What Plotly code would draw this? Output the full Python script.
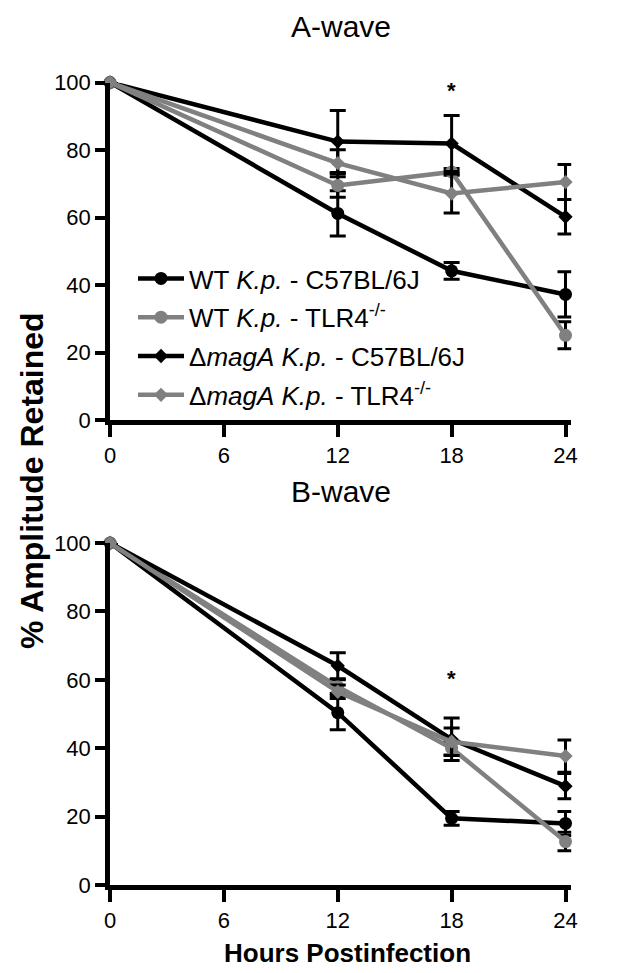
import plotly.graph_objects as go

W, H = 621, 973
OFF = 8  # page body margin offset

hours = [0, 12, 18, 24]
x_ticks = [0, 6, 12, 18, 24]
y_ticks = [0, 20, 40, 60, 80, 100]

series_names = [
    "WT <i>K.p.</i> - C57BL/6J",
    "WT <i>K.p.</i> - TLR4<sup>-/-</sup>",
    "Δ<i>magA</i> <i>K.p.</i> - C57BL/6J",
    "Δ<i>magA</i> <i>K.p.</i> - TLR4<sup>-/-</sup>",
]
series_colors = ["#000000", "#808080", "#000000", "#808080"]
series_symbols = ["circle", "circle", "diamond", "diamond"]

# A-wave
a_wt_b6 = [100, 61.2, 44.2, 37.2]
a_wt_b6_err = [0, 6.7, 2.5, 6.7]
a_wt_tlr4 = [100, 69.5, 73.5, 25.1]
a_wt_tlr4_err = [0, 3.5, 1.0, 4.0]
a_mag_b6 = [100, 82.5, 81.9, 60.2]
a_mag_b6_err = [0, 9.2, 8.3, 5.1]
a_mag_tlr4 = [100, 76.1, 67.1, 70.5]
a_mag_tlr4_err = [0, 4.0, 5.8, 5.2]

# B-wave
b_wt_b6 = [100, 50.4, 19.5, 18.0]
b_wt_b6_err = [0, 5.0, 2.0, 3.5]
b_wt_tlr4 = [100, 58.0, 40.0, 12.7]
b_wt_tlr4_err = [0, 2.0, 2.0, 2.7]
b_mag_b6 = [100, 64.1, 42.6, 28.9]
b_mag_b6_err = [0, 3.8, 6.2, 3.7]
b_mag_tlr4 = [100, 56.5, 41.9, 37.7]
b_mag_tlr4_err = [0, 2.0, 4.0, 4.7]

sig_hour = 18
sig_a = 97.5
sig_b = 60.5

FONT = "Liberation Sans, Arial, sans-serif"

def px(xp):
    return (xp - OFF) / W

def py(yp):
    return (H - (yp - OFF)) / H

fig = go.Figure()

panels = [
    ("x", "y", [a_wt_b6, a_wt_tlr4, a_mag_b6, a_mag_tlr4],
     [a_wt_b6_err, a_wt_tlr4_err, a_mag_b6_err, a_mag_tlr4_err], True),
    ("x2", "y2", [b_wt_b6, b_wt_tlr4, b_mag_b6, b_mag_tlr4],
     [b_wt_b6_err, b_wt_tlr4_err, b_mag_b6_err, b_mag_tlr4_err], False),
]

for xa, ya, vals, errs, show in panels:
    for i in range(4):
        sz = 13 if series_symbols[i] == "circle" else 11
        fig.add_trace(go.Scatter(
            x=hours, y=vals[i], xaxis=xa, yaxis=ya,
            mode="lines+markers",
            name=series_names[i],
            showlegend=show,
            legendrank=i + 1,
            legendgroup=f"g{i}",
            line=dict(color=series_colors[i], width=4.5),
            marker=dict(symbol=series_symbols[i], size=sz, color=series_colors[i]),
            error_y=dict(type="data", array=errs[i], color="#000000", thickness=3, width=8),
            cliponaxis=False,
        ))

x0px, x24px = 110, 565.5
ppu = (x24px - x0px) / 24.0
xmax = 24.3
xdom = [px(x0px), px(x0px + xmax * ppu)]

axis_common = dict(showline=True, linecolor="black", linewidth=4.5, ticks="outside",
                   tickcolor="black", tickwidth=4, showgrid=False, zeroline=False,
                   automargin=False,
                   tickfont=dict(family=FONT, size=22, color="black"))

fig.update_layout(
    width=W, height=H,
    margin=dict(l=0, r=0, t=0, b=0, pad=0, autoexpand=False),
    plot_bgcolor="white", paper_bgcolor="white",
    font=dict(family=FONT, color="black"),
    xaxis=dict(domain=xdom, range=[0, xmax], tickvals=x_ticks, ticklen=12, anchor="y", **axis_common),
    yaxis=dict(domain=[py(420), py(82.5)], range=[0, 100], tickvals=y_ticks, ticklen=10, anchor="x", **axis_common),
    xaxis2=dict(domain=xdom, range=[0, xmax], tickvals=x_ticks, ticklen=12, anchor="y2", **axis_common),
    yaxis2=dict(domain=[py(885), py(543)], range=[0, 100], tickvals=y_ticks, ticklen=10, anchor="x2", **axis_common),
    legend=dict(x=px(133), y=py(255), xanchor="left", yanchor="top",
                font=dict(family=FONT, size=26, color="black"),
                bgcolor="rgba(0,0,0,0)", tracegroupgap=2, traceorder="grouped",
                itemwidth=46),
    showlegend=True,
)

annotations = [
    dict(text="A-wave", x=px(341), y=py(27), xref="paper", yref="paper",
         showarrow=False, font=dict(family=FONT, size=30), xanchor="center", yanchor="middle"),
    dict(text="B-wave", x=px(341), y=py(492), xref="paper", yref="paper",
         showarrow=False, font=dict(family=FONT, size=30), xanchor="center", yanchor="middle"),
    dict(text="<b>% Amplitude Retained</b>", x=px(32), y=py(481), xref="paper", yref="paper",
         showarrow=False, textangle=-90, font=dict(family=FONT, size=32), xanchor="center", yanchor="middle"),
    dict(text="<b>Hours Postinfection</b>", x=px(347), y=py(953), xref="paper", yref="paper",
         showarrow=False, font=dict(family=FONT, size=26), xanchor="center", yanchor="middle"),
    dict(text="<b>*</b>", x=sig_hour, y=sig_a, xref="x", yref="y", showarrow=False,
         font=dict(family=FONT, size=22), yanchor="middle"),
    dict(text="<b>*</b>", x=sig_hour, y=sig_b, xref="x2", yref="y2", showarrow=False,
         font=dict(family=FONT, size=22), yanchor="middle"),
]
fig.update_layout(annotations=annotations)

fig.write_html("out.html")
